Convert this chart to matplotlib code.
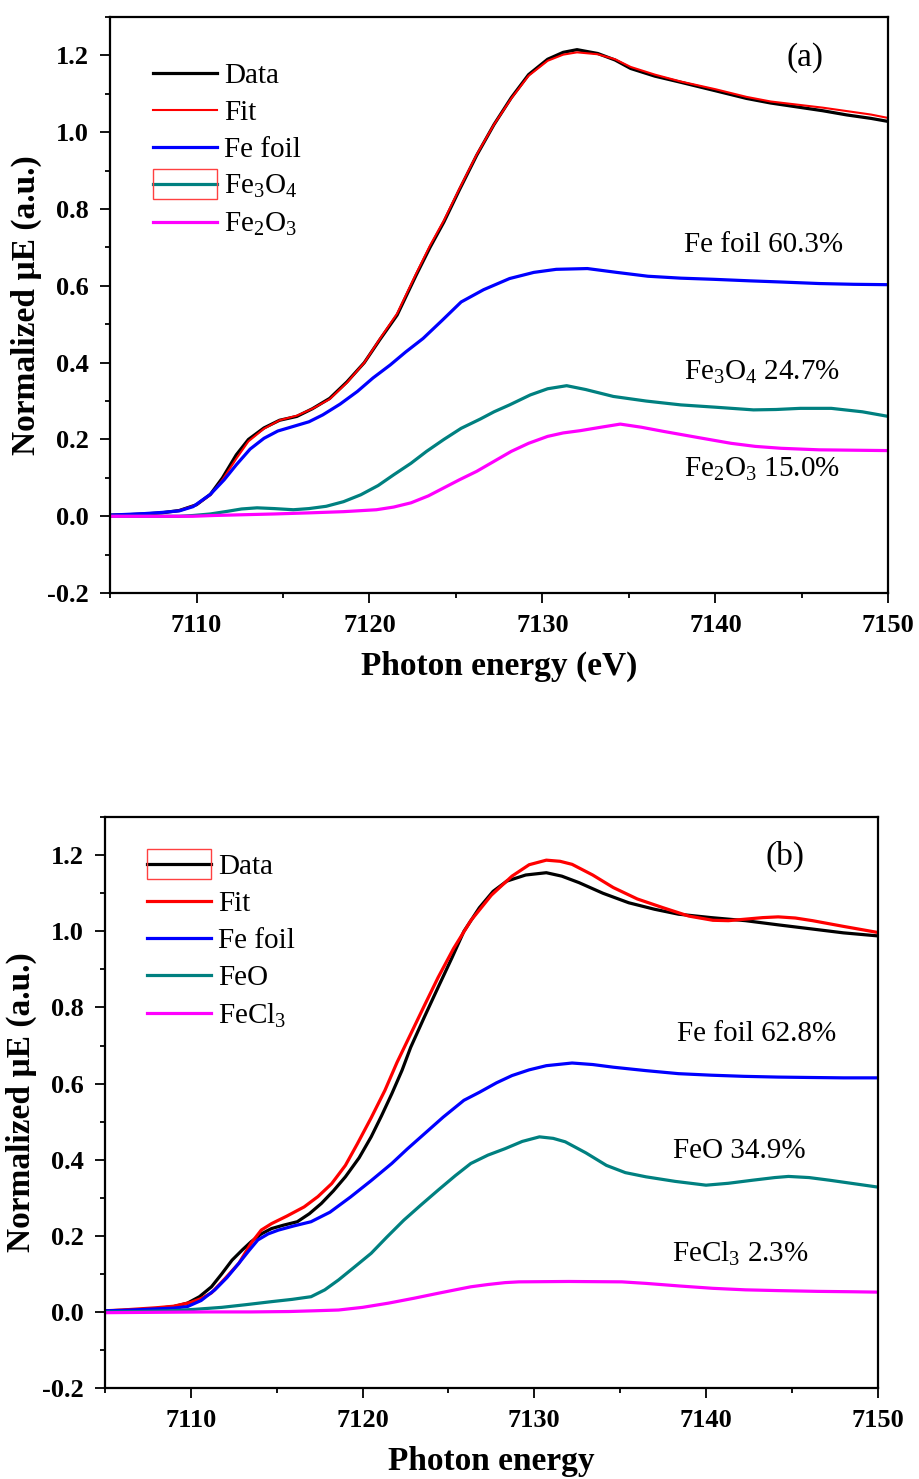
import matplotlib
matplotlib.use("Agg")
from matplotlib import pyplot as plt
from matplotlib.patches import Rectangle
from matplotlib.ticker import MultipleLocator

plt.rcParams['font.family'] = ['Liberation Serif', 'DejaVu Serif']
plt.rcParams['mathtext.fontset'] = 'custom'
plt.rcParams['mathtext.rm'] = 'Liberation Serif'
plt.rcParams['mathtext.it'] = 'Liberation Serif:italic'
plt.rcParams['mathtext.bf'] = 'Liberation Serif:bold'

# ---------------- panel (a) ----------------
e_data_a = [7105.0, 7106.0, 7107.0, 7108.0, 7109.0, 7110.0, 7110.8, 7111.5, 7112.3, 7113.0,
            7113.9, 7114.8, 7115.8, 7116.7, 7117.7, 7118.7, 7119.7, 7120.6, 7121.6, 7122.7,
            7123.5, 7124.3, 7125.2, 7126.2, 7127.2, 7128.2, 7129.2, 7130.3, 7131.2, 7132.0,
            7133.2, 7134.2, 7135.1, 7136.5, 7138.0, 7140.0, 7141.8, 7143.2, 7144.7, 7146.2,
            7147.6, 7149.0, 7150.0]
mu_data_a = [0.003, 0.004, 0.006, 0.009, 0.015, 0.03, 0.057, 0.10, 0.16, 0.20,
             0.23, 0.25, 0.26, 0.28, 0.307, 0.35, 0.40, 0.46, 0.524, 0.628,
             0.70, 0.766, 0.85, 0.94, 1.02, 1.09, 1.15, 1.19, 1.208, 1.215,
             1.205, 1.188, 1.166, 1.146, 1.13, 1.108, 1.088, 1.076, 1.066, 1.056,
             1.045, 1.036, 1.028]
mu_fit_a = [0.003, 0.004, 0.006, 0.009, 0.015, 0.03, 0.055, 0.095, 0.15, 0.195,
            0.228, 0.25, 0.262, 0.28, 0.305, 0.348, 0.40, 0.462, 0.528, 0.632,
            0.705, 0.77, 0.853, 0.942, 1.02, 1.088, 1.147, 1.186, 1.202, 1.208,
            1.203, 1.19, 1.17, 1.15, 1.132, 1.112, 1.092, 1.08, 1.072, 1.064,
            1.055, 1.046, 1.037]

e_foil_a = [7105, 7106, 7107, 7108, 7109, 7109.8, 7110.8, 7111.6, 7112.3, 7113.1,
            7113.9, 7114.7, 7115.6, 7116.5, 7117.3, 7118.3, 7119.3, 7120.2, 7121.2, 7122.1,
            7123.1, 7124.2, 7125.3, 7126.6, 7128.1, 7129.5, 7130.8, 7132.6, 7134.3, 7136.1,
            7138, 7139.9, 7142, 7143.8, 7146, 7148, 7150]
mu_foil_a = [0.003, 0.005, 0.007, 0.01, 0.014, 0.025, 0.057, 0.095, 0.134, 0.175,
             0.203, 0.222, 0.234, 0.246, 0.264, 0.292, 0.325, 0.36, 0.394, 0.428,
             0.463, 0.51, 0.558, 0.59, 0.619, 0.635, 0.643, 0.645, 0.635, 0.625,
             0.62, 0.617, 0.613, 0.61, 0.606, 0.604, 0.603]

e_fe3o4 = [7105, 7107, 7109, 7109.8, 7110.8, 7111.8, 7112.6, 7113.5, 7114.5, 7115.6,
           7116.5, 7117.5, 7118.5, 7119.5, 7120.5, 7121.4, 7122.4, 7123.3, 7124.3, 7125.3,
           7126.4, 7127.2, 7128.1, 7129.3, 7130.3, 7131.4, 7132.5, 7134.1, 7136, 7138,
           7140, 7142.2, 7143.5, 7144.9, 7146.7, 7148.5, 7150]
mu_fe3o4 = [0.0, 0.0, 0.0, 0.002, 0.006, 0.013, 0.019, 0.022, 0.02, 0.017,
            0.02, 0.026, 0.038, 0.056, 0.08, 0.108, 0.138, 0.169, 0.2, 0.229,
            0.253, 0.272, 0.29, 0.316, 0.332, 0.34, 0.33, 0.312, 0.3, 0.29,
            0.284, 0.277, 0.278, 0.281, 0.281, 0.272, 0.26]

e_fe2o3 = [7105, 7108, 7109.8, 7111, 7112.7, 7114.5, 7116.6, 7118.5, 7120.4, 7121.4,
           7122.4, 7123.4, 7124.3, 7125.2, 7126.2, 7127.2, 7128.2, 7129.2, 7130.3, 7131.2,
           7132.2, 7133.4, 7134.5, 7135.7, 7137, 7139, 7140.9, 7142.3, 7143.8, 7146,
           7148, 7150]
mu_fe2o3 = [0.0, 0.0, 0.0, 0.002, 0.004, 0.006, 0.009, 0.012, 0.017, 0.024,
            0.035, 0.053, 0.074, 0.095, 0.117, 0.143, 0.169, 0.19, 0.208, 0.217,
            0.223, 0.232, 0.24, 0.232, 0.221, 0.205, 0.19, 0.182, 0.177, 0.173,
            0.172, 0.171]

# ---------------- panel (b) ----------------
e_data_b = [7105, 7106, 7107, 7108, 7109, 7109.8, 7110.5, 7111.2, 7111.8, 7112.4,
            7113.0, 7113.5, 7114.1, 7114.7, 7115.4, 7116.2, 7116.9, 7117.6, 7118.3, 7119.0,
            7119.8, 7120.5, 7121.1, 7121.7, 7122.3, 7122.8, 7123.6, 7124.4, 7125.2, 7125.9,
            7126.8, 7127.6, 7128.4, 7129.5, 7130.7, 7131.6, 7132.6, 7134, 7135.5, 7137,
            7138.4, 7140.3, 7142.3, 7144.2, 7146.2, 7148, 7150]
mu_data_b = [0.003, 0.004, 0.006, 0.009, 0.014, 0.023, 0.04, 0.066, 0.10, 0.136,
             0.163, 0.184, 0.205, 0.219, 0.228, 0.237, 0.258, 0.285, 0.318, 0.355,
             0.405, 0.46, 0.515, 0.573, 0.635, 0.695, 0.775, 0.853, 0.93, 1.0,
             1.062, 1.105, 1.132, 1.148, 1.154, 1.145, 1.128, 1.1, 1.075, 1.058,
             1.045, 1.036, 1.028, 1.017, 1.006, 0.996, 0.988]

e_fit_b = [7105, 7106, 7107, 7108, 7109, 7110, 7110.6, 7111.2, 7112.0, 7112.8,
           7113.5, 7114.1, 7114.7, 7115.6, 7116.6, 7117.4, 7118.2, 7119.0, 7119.7, 7120.5,
           7121.3, 7122.0, 7122.8, 7123.6, 7124.4, 7125.3, 7126.3, 7127.5, 7128.7, 7129.7,
           7130.7, 7131.5, 7132.2, 7133.4, 7134.6, 7136, 7137.5, 7139, 7140.4, 7141.3,
           7142.3, 7143.3, 7144.2, 7145.2, 7146.2, 7148, 7150]
mu_fit_b = [0.003, 0.005, 0.008, 0.011, 0.015, 0.025, 0.035, 0.05, 0.088, 0.128,
            0.18, 0.215, 0.232, 0.252, 0.276, 0.303, 0.337, 0.385, 0.442, 0.51,
            0.582, 0.655, 0.73, 0.805, 0.879, 0.955, 1.028, 1.095, 1.145, 1.175,
            1.187, 1.184, 1.176, 1.148, 1.115, 1.085, 1.062, 1.04, 1.029, 1.028,
            1.032, 1.036, 1.038, 1.035, 1.028, 1.013, 0.997]

e_foil_b = [7105, 7106, 7107, 7108, 7109, 7109.8, 7110.6, 7111.4, 7112.1, 7112.8,
            7113.4, 7113.9, 7114.5, 7115.1, 7116, 7117, 7118.1, 7119.3, 7120.5, 7121.7,
            7122.6, 7123.6, 7124.7, 7125.9, 7126.8, 7127.8, 7128.7, 7129.7, 7130.7, 7132.2,
            7133.4, 7134.6, 7136.5, 7138.4, 7140.3, 7142.2, 7144.2, 7146, 7148, 7150]
mu_foil_b = [0.003, 0.004, 0.006, 0.008, 0.01, 0.014, 0.03, 0.058, 0.09, 0.128,
             0.162, 0.189, 0.205, 0.215, 0.226, 0.237, 0.262, 0.302, 0.345, 0.39,
             0.428, 0.468, 0.512, 0.556, 0.577, 0.602, 0.621, 0.636, 0.647, 0.654,
             0.65, 0.643, 0.634, 0.626, 0.622, 0.619, 0.617, 0.616, 0.615, 0.615]

e_feo = [7105, 7107, 7108.9, 7110.3, 7111.8, 7113.2, 7114.7, 7115.9, 7117.0, 7117.8,
         7118.6, 7119.5, 7120.5, 7121.4, 7122.4, 7123.4, 7124.4, 7125.4, 7126.3, 7127.3,
         7128.3, 7129.3, 7130.3, 7131.1, 7131.8, 7133, 7134.2, 7135.3, 7136.5, 7138.2,
         7140, 7141.3, 7142.7, 7144, 7144.8, 7146, 7147.2, 7148.6, 7150]
mu_feo = [0.0, 0.001, 0.003, 0.007, 0.012, 0.019, 0.027, 0.033, 0.04, 0.058,
          0.084, 0.117, 0.154, 0.196, 0.241, 0.281, 0.32, 0.358, 0.39, 0.412,
          0.429, 0.448, 0.46, 0.456, 0.447, 0.418, 0.385, 0.366, 0.355, 0.343,
          0.333, 0.338, 0.346, 0.353, 0.356, 0.353, 0.346, 0.337, 0.328]

e_fecl3 = [7105, 7108, 7111, 7113.5, 7115.7, 7117.2, 7118.6, 7120, 7121.5, 7123,
           7124.4, 7125.4, 7126.3, 7127.3, 7128.3, 7129.1, 7132, 7135.1, 7136.5, 7138.5,
           7140.4, 7142.3, 7144.2, 7146.5, 7148.5, 7150]
mu_fecl3 = [-0.002, -0.001, 0.0, 0.0, 0.001, 0.003, 0.005, 0.012, 0.023, 0.036,
            0.049, 0.058, 0.066, 0.072, 0.077, 0.079, 0.08, 0.079, 0.075, 0.068,
            0.062, 0.058, 0.056, 0.054, 0.053, 0.052]

TEAL = '#008080'
MAG = '#ff00ff'

fig = plt.figure(figsize=(9.2, 14.79), dpi=100)
ax1 = fig.add_axes([0.1196, 0.599, 0.846, 0.3895])
ax2 = fig.add_axes([0.1141, 0.0615, 0.840, 0.386])

# (a)
ax1.plot(e_data_a, mu_data_a, color='black', lw=2.3, label='Data')
ax1.plot(e_data_a, mu_fit_a, color='red', lw=1.5, label='Fit')
ax1.plot(e_foil_a, mu_foil_a, color='blue', lw=2.3, label='Fe foil')
ax1.plot(e_fe3o4, mu_fe3o4, color=TEAL, lw=2.3, label='Fe$_3$O$_4$')
ax1.plot(e_fe2o3, mu_fe2o3, color=MAG, lw=2.3, label='Fe$_2$O$_3$')

# (b)
ax2.plot(e_data_b, mu_data_b, color='black', lw=2.3, label='Data')
ax2.plot(e_fit_b, mu_fit_b, color='red', lw=2.3, label='Fit')
ax2.plot(e_foil_b, mu_foil_b, color='blue', lw=2.3, label='Fe foil')
ax2.plot(e_feo, mu_feo, color=TEAL, lw=2.3, label='FeO')
ax2.plot(e_fecl3, mu_fecl3, color=MAG, lw=2.3, label='FeCl$_3$')

ax1.text(7138.2, 0.688, 'Fe foil 60.3%', fontsize=21, va='baseline')
ax1.text(7138.2, 0.356, 'Fe$_3$O$_4$ 24.7%', fontsize=21, va='baseline')
ax1.text(7138.2, 0.104, 'Fe$_2$O$_3$ 15.0%', fontsize=21, va='baseline')
ax1.text(7145.2, 1.195, '(a)', fontsize=24, ha='center', va='center')

ax2.text(7138.3, 0.713, 'Fe foil 62.8%', fontsize=21, va='baseline')
ax2.text(7138.1, 0.404, 'FeO 34.9%', fontsize=21, va='baseline')
ax2.text(7138.0, 0.131, 'FeCl$_3$ 2.3%', fontsize=21, va='baseline')
ax2.text(7144.6, 1.198, '(b)', fontsize=24, ha='center', va='center')

legends = []
for ax, anchor in ((ax1, (0.055, 0.921)), (ax2, (0.054, 0.936))):
    ax.set_xlim(7105, 7150)
    ax.set_ylim(-0.2, 1.3)
    ax.set_yticks([-0.2, 0.0, 0.2, 0.4, 0.6, 0.8, 1.0, 1.2])
    ax.set_yticklabels(['-0.2', '0.0', '0.2', '0.4', '0.6', '0.8', '1.0', '1.2'])
    ax.set_xticks([7110, 7120, 7130, 7140, 7150])
    ax.xaxis.set_minor_locator(MultipleLocator(5))
    ax.yaxis.set_minor_locator(MultipleLocator(0.1))
    ax.tick_params(which='both', direction='out', width=1.3, top=False, right=False)
    ax.tick_params(which='major', length=7, pad=8, labelsize=19)
    ax.tick_params(which='minor', length=3.5)
    for lab in ax.get_xticklabels() + ax.get_yticklabels():
        lab.set_fontweight('bold')
    for sp in ax.spines.values():
        sp.set_linewidth(1.6)
    ax.set_ylabel('Normalized \u00b5E (a.u.)', fontsize=24, fontweight='bold', labelpad=4)
    leg = ax.legend(loc='upper left', bbox_to_anchor=anchor, frameon=False, fontsize=21,
                    handlelength=2.2, handletextpad=0.25, labelspacing=0.36,
                    borderpad=0, borderaxespad=0)
    legends.append(leg)

ax1.set_xlabel('Photon energy (eV)', fontsize=24, fontweight='bold', labelpad=10)
ax2.set_xlabel('Photon energy', fontsize=24, fontweight='bold', labelpad=10)

# red selection boxes around legend handles (as in the original figure)
fig.canvas.draw()
W, H = fig.get_size_inches() * fig.dpi
for leg, idx in ((legends[0], 3), (legends[1], 0)):
    bb = leg.legend_handles[idx].get_window_extent()
    yc = (bb.y0 + bb.y1) / 2
    fig.patches.append(Rectangle((bb.x0 / W, (yc - 15) / H), bb.width / W, 30 / H,
                                 transform=fig.transFigure, fill=False,
                                 edgecolor='#ff4040', lw=1.0))

fig.savefig('out.png', dpi=100)
